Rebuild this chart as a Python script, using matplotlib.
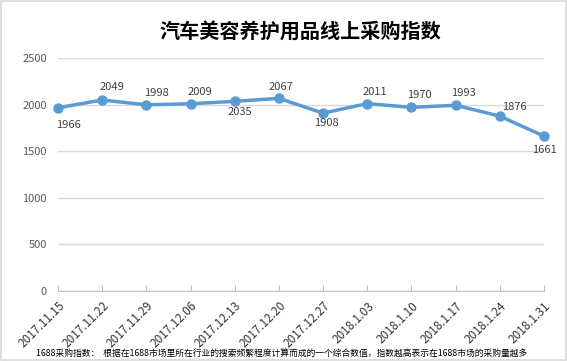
import matplotlib.pyplot as plt
from matplotlib.patches import Rectangle

plt.rcParams['font.family'] = ['Noto Sans CJK SC', 'DejaVu Sans']

dates = ['2017.11.15', '2017.11.22', '2017.11.29', '2017.12.06', '2017.12.13', '2017.12.20',
         '2017.12.27', '2018.1.03', '2018.1.10', '2018.1.17', '2018.1.24', '2018.1.31']
values = [1966, 2049, 1998, 2009, 2035, 2067, 1908, 2011, 1970, 1993, 1876, 1661]
# label offsets from the point, in pixels (dx right, dy up)
label_dx = [11, 10, 10, 9, 5, 2, 3, 8, 8, 8, 15, 0]
label_dy = [-17, 13, 12, 12, -11, 11, -10, 12, 12, 12, 9, -14]

title = '汽车美容养护用品线上采购指数'
note = '1688采购指数：  根据在1688市场里所在行业的搜索频繁程度计算而成的一个综合数值，指数越高表示在1688市场的采购量越多'

fig = plt.figure(figsize=(5.67, 3.61), dpi=100)
ax = fig.add_axes([58/567, 1 - 291/361, 486/567, 233/361])

x = list(range(len(values)))
ax.plot(x, values, color='#5B9BD5', lw=2.5, marker='o', ms=6.5, zorder=3, clip_on=False)

for xi, v, dx, dy in zip(x, values, label_dx, label_dy):
    ax.annotate(str(v), (xi, v), xytext=(dx * 0.72, dy * 0.72), textcoords='offset points',
                ha='center', va='center', fontsize=8, color='#404040')

ax.set_xlim(0, 11)
ax.set_ylim(0, 2500)
ax.set_yticks(range(0, 2501, 500))
ax.set_xticks(x)
ax.set_xticklabels(dates, rotation=45, ha='right', rotation_mode='anchor', fontsize=8.5, color='#333333')
ax.tick_params(axis='y', length=0, labelsize=8, labelcolor='#595959', pad=8)
ax.tick_params(axis='x', direction='in', length=4, color='#BFBFBF', pad=6)
ax.grid(axis='y', color='#D9D9D9', lw=1)
ax.set_axisbelow(True)
for s in ['left', 'right', 'top']:
    ax.spines[s].set_visible(False)
ax.spines['bottom'].set_color('#BFBFBF')

fig.text(0.53, 1 - 32/361, title, ha='center', va='center', fontsize=14.5, fontweight='bold', color='black')
fig.text(282/567, 1 - 353/361, note, ha='center', va='center', fontsize=6.3, color='black')

fig.patches.append(Rectangle((0.002, 0.003), 0.996, 0.994, transform=fig.transFigure,
                             fill=False, edgecolor='#D9D9D9', lw=1.2))

fig.savefig('out.png', dpi=100)
